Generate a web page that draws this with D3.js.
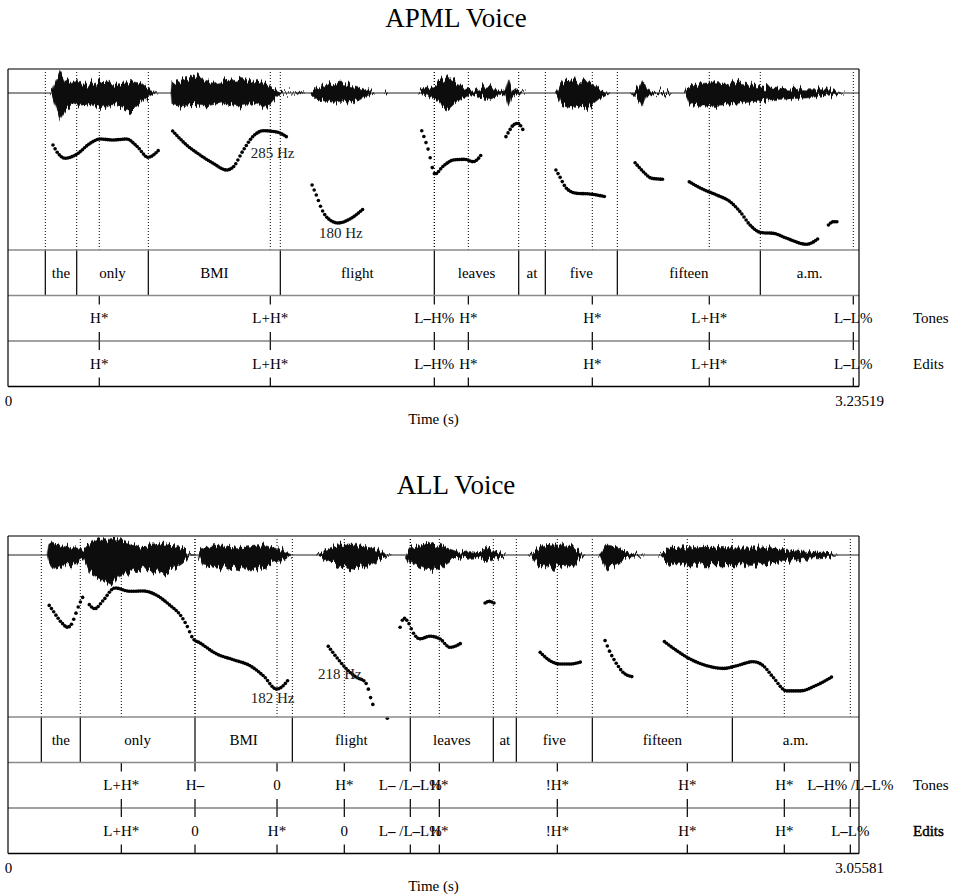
<!DOCTYPE html>
<html>
<head>
<meta charset="utf-8">
<script src="https://cdn.jsdelivr.net/npm/d3@7"></script>
<style>
  body { margin: 0; background: #fff; }
  svg { display: block; font-family: "Liberation Serif", "Times New Roman", serif; }
</style>
</head>
<body>
<svg id="chart" width="956" height="894">
  <defs>
    <!-- vertical-only jitter so the envelope edges look like sample spikes -->
    <filter id="rough" x="-2%" y="-80%" width="104%" height="260%">
      <feTurbulence type="fractalNoise" baseFrequency="0.45 0.02" numOctaves="2" seed="3" result="n"/>
      <feColorMatrix in="n" type="matrix" values="0 0 0 0 0.5  0 1 0 0 0  0 0 1 0 0  0 0 0 0 1" result="m"/>
      <feDisplacementMap in="SourceGraphic" in2="m" scale="14" xChannelSelector="R" yChannelSelector="G"/>
    </filter>
  </defs>
</svg>
<script>
// ---------- APML voice ----------
var apmlDuration = 3.23519;
var apmlWords = ["", "the", "only", "BMI", "flight", "leaves", "at", "five", "fifteen", "a.m."];
var apmlWordEnds = [0.1418, 0.2612, 0.5334, 1.0352, 1.6207, 1.9415, 2.0427, 2.3164, 2.860, 3.23519];
var apmlToneTimes = [0.347, 0.9972, 1.6207, 1.750, 2.2213, 2.666, 3.2135];
var apmlTones = ["H*", "L+H*", "L–H%", "H*", "H*", "L+H*", "L–L%"];
var apmlEdits = ["H*", "L+H*", "L–H%", "H*", "H*", "L+H*", "L–L%"];
// pitch contour pieces, [time s, F0 Hz]
var apmlPitch = [
  [[0.171,268.9],[0.190,259.5],[0.217,253.9],[0.261,258.4],[0.312,270.8],[0.350,275.7],[0.399,274.6],[0.451,275.7],[0.489,267.8],[0.533,255],[0.571,262.5]],
  [[0.626,284.8],[0.679,268.9],[0.730,257.6],[0.780,248.2],[0.831,240.6],[0.857,244.3],[0.895,263.3],[0.933,279.1],[0.971,285.1],[1.022,283.6],[1.062,277.6]],
  [[1.156,223.6],[1.175,210],[1.194,195.3],[1.224,184],[1.255,180.6],[1.300,185.1],[1.350,196.4]],
  [[1.573,285.1],[1.598,263.3],[1.623,236.1],[1.655,245.1],[1.693,251.9],[1.737,252.7],[1.769,250],[1.801,258.7]],
  [[1.893,278.4],[1.906,285.1],[1.921,291.5],[1.938,293.4],[1.957,286.6]],
  [[2.083,240.6],[2.099,232.3],[2.114,223.6],[2.130,218],[2.162,214.2],[2.213,213.4],[2.270,210.4]],
  [[2.384,248.9],[2.415,238.7],[2.447,231.2],[2.491,230.1]],
  [[2.590,227.2],[2.643,218.6],[2.694,212.3],[2.745,204.7],[2.783,193.4],[2.821,178.3],[2.865,169.6],[2.909,168.9],[2.960,163.3],[3.036,156.5],[3.084,163.9]],
  [[3.119,178.3],[3.138,182],[3.157,182]]
];
// waveform envelope pieces, [time s, max, min] (normalised amplitude)
var apmlWave = [
  [[0.160,0,0],[0.167,0.1,-0.1],[0.179,0.5,-0.49],[0.198,0.93,-1.1],[0.217,0.55,-0.75],[0.247,0.42,-0.42],[0.280,0.45,-0.55],[0.312,0.38,-0.49],[0.357,0.55,-0.63],[0.385,0.45,-0.5],[0.414,0.42,-0.49],[0.464,0.49,-0.83],[0.502,0.42,-0.42],[0.528,0.2,-0.2],[0.551,0.05,-0.05],[0.570,0,0]],
  [[0.619,0,0],[0.623,0.45,-0.49],[0.654,0.49,-0.55],[0.690,0.6,-0.5],[0.718,0.74,-0.5],[0.750,0.5,-0.55],[0.779,0.42,-0.49],[0.814,0.5,-0.42],[0.850,0.55,-0.5],[0.882,0.62,-0.55],[0.931,0.45,-0.42],[0.984,0.42,-0.63],[1.008,0.2,-0.3],[1.034,0.05,-0.05],[1.053,0.02,-0.02],[1.080,0.01,-0.01],[1.110,0.04,-0.04],[1.129,0,0]],
  [[1.150,0,0],[1.155,0.08,-0.08],[1.174,0.21,-0.28],[1.212,0.42,-0.35],[1.240,0.35,-0.4],[1.262,0.38,-0.35],[1.300,0.32,-0.38],[1.326,0.28,-0.35],[1.360,0.15,-0.15],[1.376,0.07,-0.07],[1.395,0,0]],
  [[1.430,0,0],[1.437,0.06,-0.06],[1.444,0,0]],
  [[1.560,0,0],[1.573,0.08,-0.08],[1.617,0.28,-0.2],[1.642,0.49,-0.42],[1.668,0.7,-0.76],[1.706,0.42,-0.35],[1.744,0.21,-0.15],[1.769,0.07,-0.07],[1.794,0.2,-0.18],[1.832,0.28,-0.28],[1.870,0.06,-0.06],[1.890,0.1,-0.1],[1.902,0.55,-0.55],[1.915,0.15,-0.15],[1.946,0.05,-0.05],[1.969,0,0]],
  [[2.080,0,0],[2.092,0.2,-0.2],[2.105,0.49,-0.49],[2.149,0.51,-0.6],[2.180,0.48,-0.58],[2.213,0.42,-0.55],[2.251,0.21,-0.21],[2.276,0.05,-0.05],[2.289,0,0]],
  [[2.365,0,0],[2.378,0.05,-0.05],[2.395,0.2,-0.25],[2.410,0.49,-0.55],[2.428,0.15,-0.15],[2.460,0.03,-0.03],[2.504,0.07,-0.07],[2.524,0,0]],
  [[2.570,0,0],[2.580,0.2,-0.15],[2.593,0.35,-0.5],[2.656,0.42,-0.55],[2.719,0.38,-0.5],[2.783,0.42,-0.42],[2.846,0.28,-0.35],[2.909,0.21,-0.28],[2.970,0.18,-0.25],[3.036,0.14,-0.21],[3.138,0.14,-0.07],[3.163,0.02,-0.02],[3.182,0,0]]
];
var apmlPitchLabels = [{text: "285 Hz", t: 0.923, hz: 254.2}, {text: "180 Hz", t: 1.182, hz: 163.6}];

// ---------- ALL voice ----------
var allDuration = 3.05581;
var allWords = ["", "the", "only", "BMI", "flight", "leaves", "at", "five", "fifteen", "a.m."];
var allWordEnds = [0.1196, 0.2596, 0.6715, 1.021, 1.4446, 1.7427, 1.8253, 2.0982, 2.601, 3.05581];
var allToneTimes = [0.4069, 0.6715, 0.966, 1.2076, 1.4446, 1.5488, 1.9725, 2.4393, 2.7876, 3.0246];
var allTones = ["L+H*", "H–", "0", "H*", "L– /L–L%", "H*", "!H*", "H*", "H*", "L–H% /L–L%"];
var allEdits = ["L+H*", "0", "H*", "0", "L– /L–L%", "H*", "!H*", "H*", "H*", "L–L%"];
var allPitch = [
  [[0.148,330.4],[0.163,319.6],[0.177,309.3],[0.193,299.2],[0.214,291.2],[0.229,297.4],[0.241,312.4],[0.252,327.4],[0.270,346.7]],
  [[0.292,331.7],[0.312,324.5],[0.342,339.5],[0.384,361.7],[0.438,355.7],[0.486,356.2],[0.534,348.5],[0.582,330.4],[0.618,313.6],[0.642,294.3],[0.665,270.3],[0.689,263.1],[0.749,243.2],[0.809,232.9],[0.869,222.1],[0.917,204],[0.965,180],[1.007,196.8]],
  [[1.150,256.9],[1.180,237.1],[1.216,216.1],[1.252,201],[1.282,193.2],[1.294,180],[1.302,164.8],[1.312,149.9]],
  [[1.362,127.7]],
  [[1.408,291.2],[1.422,307.5],[1.437,300.3],[1.455,281.1],[1.479,270.3],[1.515,275],[1.551,270.3],[1.587,255.1],[1.629,263.1]],
  [[1.713,334.6],[1.728,337.6],[1.745,334.6]],
  [[1.911,246.1],[1.946,231.1],[1.982,225.1],[2.018,225.1],[2.060,229.3]],
  [[2.144,267.2],[2.162,246.1],[2.186,225.1],[2.209,210],[2.243,202.2]],
  [[2.357,265.4],[2.401,249.2],[2.449,234.2],[2.509,222.1],[2.569,217.2],[2.617,222.1],[2.676,229.3],[2.712,222.1],[2.748,201],[2.796,176.9],[2.844,176.9],[2.904,187.2],[2.961,202.8]]
];
var allWave = [
  [[0.140,0,0],[0.147,0.51,-0.32],[0.169,0.47,-0.67],[0.190,0.4,-0.5],[0.211,0.33,-0.38],[0.247,0.3,-0.38],[0.270,0.2,-0.2],[0.294,0.51,-0.74],[0.330,0.72,-1.0],[0.366,0.65,-1.29],[0.402,0.65,-0.76],[0.438,0.47,-0.76],[0.474,0.3,-0.55],[0.510,0.42,-0.65],[0.570,0.47,-0.76],[0.629,0.3,-0.3],[0.647,0.05,-0.05],[0.661,0.01,-0.01],[0.675,0,0]],
  [[0.682,0,0],[0.689,0.17,-0.18],[0.701,0.3,-0.42],[0.749,0.42,-0.55],[0.809,0.3,-0.49],[0.869,0.35,-0.63],[0.917,0.42,-0.55],[0.953,0.3,-0.3],[0.977,0.25,-0.25],[1.001,0.1,-0.1],[1.020,0,0]],
  [[1.106,0,0],[1.120,0.05,-0.05],[1.156,0.3,-0.3],[1.192,0.42,-0.49],[1.240,0.42,-0.55],[1.288,0.35,-0.49],[1.336,0.17,-0.2],[1.360,0.03,-0.03],[1.379,0,0]],
  [[1.426,0,0],[1.444,0.3,-0.3],[1.480,0.35,-0.49],[1.503,0.58,-0.6],[1.539,0.35,-0.6],[1.551,0.42,-0.55],[1.587,0.25,-0.25],[1.623,0.1,-0.1],[1.659,0.15,-0.15],[1.695,0.1,-0.1],[1.719,0.35,-0.35],[1.743,0.15,-0.15],[1.767,0.1,-0.1],[1.788,0,0]],
  [[1.867,0,0],[1.881,0.05,-0.05],[1.911,0.35,-0.49],[1.934,0.44,-0.55],[1.982,0.42,-0.49],[2.030,0.35,-0.49],[2.054,0.1,-0.1],[2.072,0,0]],
  [[2.119,0,0],[2.126,0.05,-0.05],[2.150,0.42,-0.55],[2.186,0.35,-0.42],[2.222,0.1,-0.1],[2.270,0.02,-0.02],[2.287,0,0]],
  [[2.334,0,0],[2.347,0.05,-0.05],[2.377,0.33,-0.42],[2.413,0.3,-0.35],[2.509,0.33,-0.42],[2.629,0.3,-0.42],[2.748,0.3,-0.35],[2.796,0.2,-0.24],[2.868,0.15,-0.14],[2.952,0.1,-0.1],[2.964,0.02,-0.02],[2.980,0,0]]
];
var allPitchLabels = [{text: "182 Hz", t: 0.8715, hz: 155.3}, {text: "218 Hz", t: 1.113, hz: 198.6}];

var panels = [
  {title: "APML Voice", top: 69, zero: 93, pitchRange: [150, 355], duration: apmlDuration,
   words: apmlWords, wordEnds: apmlWordEnds, toneTimes: apmlToneTimes, tones: apmlTones, edits: apmlEdits,
   pitch: apmlPitch, wave: apmlWave, pitchLabels: apmlPitchLabels, boldEdits: false},
  {title: "ALL Voice", top: 536, zero: 555, pitchRange: [130, 455], duration: allDuration,
   words: allWords, wordEnds: allWordEnds, toneTimes: allToneTimes, tones: allTones, edits: allEdits,
   pitch: allPitch, wave: allWave, pitchLabels: allPitchLabels, boldEdits: true}
];

var svg = d3.select("#chart");
var left = 8, right = 859;
var fontSize = 15;

// writes a label, drawing the phrase-accent dash heavier as Praat does
function toneText(sel, label) {
  label.split(/(–)/).forEach(function(part) {
    if (!part) return;
    var ts = sel.append("tspan").text(part);
    if (part === "–") ts.attr("font-weight", "bold");
  });
}

function drawPanel(p) {
  var g = svg.append("g");
  var tierTop = p.top + 181, tierH = 45.5;
  var rows = [tierTop, tierTop + tierH, tierTop + 2 * tierH, tierTop + 3 * tierH];

  var x = d3.scaleLinear().domain([0, p.duration]).range([left, right]);
  var y = d3.scaleLinear().domain(p.pitchRange).range([tierTop, p.top]);
  var amp = d3.scaleLinear().domain([-1, 1]).range([p.zero + 24, p.zero - 24]);

  g.append("text").attr("x", 456).attr("y", p.top - 42).attr("text-anchor", "middle")
    .attr("font-size", 27).text(p.title);

  // dotted guides for all boundaries and tone points
  var guides = p.wordEnds.slice(0, -1).concat(p.toneTimes);
  g.append("g").selectAll("line").data(guides).enter().append("line")
    .attr("x1", function(d) { return x(d); }).attr("x2", function(d) { return x(d); })
    .attr("y1", p.top).attr("y2", tierTop)
    .attr("stroke", "#000").attr("stroke-width", 1).attr("stroke-dasharray", "1,2");

  // waveform
  g.append("line").attr("x1", left).attr("x2", right).attr("y1", p.zero).attr("y2", p.zero)
    .attr("stroke", "#222").attr("stroke-width", 1);
  var area = d3.area()
    .x(function(d) { return x(d[0]); })
    .y0(function(d) { return amp(d[2]); })
    .y1(function(d) { return amp(d[1]); });
  g.append("g").attr("filter", "url(#rough)")
    .selectAll("path").data(p.wave).enter().append("path")
    .attr("d", area).attr("fill", "#111").attr("stroke", "#333").attr("stroke-width", 0.5);

  // pitch: the contour line sampled at a fixed analysis step, drawn as speckles
  var line = d3.line().x(function(d) { return x(d[0]); }).y(function(d) { return y(d[1]); })
    .curve(d3.curveMonotoneX);
  var pg = g.append("g");
  var step = 0.008;
  p.pitch.forEach(function(seg) {
    var pts = [];
    if (seg.length === 1) {
      pts.push({x: x(seg[0][0]), y: y(seg[0][1])});
    } else {
      var node = pg.append("path").attr("d", line(seg)).attr("fill", "none").attr("stroke", "none").node();
      var len = node.getTotalLength();
      for (var t = seg[0][0]; t <= seg[seg.length - 1][0] + 1e-9; t += step) {
        var px = x(t), lo = 0, hi = len;
        for (var i = 0; i < 25; i++) {
          var mid = (lo + hi) / 2;
          if (node.getPointAtLength(mid).x < px) lo = mid; else hi = mid;
        }
        pts.push(node.getPointAtLength(hi));
      }
    }
    pg.selectAll(null).data(pts).enter().append("circle")
      .attr("cx", function(d) { return d.x; }).attr("cy", function(d) { return d.y; })
      .attr("r", 1.8).attr("fill", "#000");
  });

  g.selectAll(null).data(p.pitchLabels).enter().append("text")
    .attr("x", function(d) { return x(d.t); }).attr("y", function(d) { return y(d.hz); })
    .attr("font-size", fontSize).attr("fill", "#222").text(function(d) { return d.text; });

  // word tier
  var starts = [0].concat(p.wordEnds.slice(0, -1));
  g.append("g").selectAll("line").data(p.wordEnds.slice(0, -1)).enter().append("line")
    .attr("x1", function(d) { return x(d); }).attr("x2", function(d) { return x(d); })
    .attr("y1", rows[0]).attr("y2", rows[1]).attr("stroke", "#000").attr("stroke-width", 1.2);
  g.append("g").selectAll("text").data(p.words).enter().append("text")
    .attr("x", function(d, i) { return (x(starts[i]) + x(p.wordEnds[i])) / 2; })
    .attr("y", rows[0] + tierH / 2 + 5).attr("text-anchor", "middle").attr("font-size", fontSize)
    .text(function(d) { return d; });

  // point tiers
  [p.tones, p.edits].forEach(function(labels, k) {
    var t0 = rows[k + 1], t1 = rows[k + 2];
    var tg = g.append("g");
    p.toneTimes.forEach(function(tt, i) {
      var xx = x(tt);
      tg.append("line").attr("x1", xx).attr("x2", xx).attr("y1", t0).attr("y2", t0 + 9)
        .attr("stroke", "#000").attr("stroke-width", 1.2);
      tg.append("line").attr("x1", xx).attr("x2", xx).attr("y1", t1 - 9).attr("y2", t1)
        .attr("stroke", "#000").attr("stroke-width", 1.2);
      var txt = tg.append("text").attr("x", xx).attr("y", t0 + tierH / 2 + 5)
        .attr("text-anchor", "middle").attr("font-size", fontSize);
      toneText(txt, labels[i]);
    });
    var name = g.append("text").attr("x", 913).attr("y", t0 + tierH / 2 + 5)
      .attr("font-size", fontSize).text(k === 0 ? "Tones" : "Edits");
    if (k === 1 && p.boldEdits) name.attr("stroke", "#000").attr("stroke-width", 0.45);
  });

  // frame and tier separators
  g.append("line").attr("x1", left).attr("x2", right).attr("y1", p.top).attr("y2", p.top)
    .attr("stroke", "#7a7a7a").attr("stroke-width", 2);
  g.append("line").attr("x1", left).attr("x2", right).attr("y1", rows[0]).attr("y2", rows[0])
    .attr("stroke", "#8a8a8a").attr("stroke-width", 1.6);
  g.append("line").attr("x1", left).attr("x2", right).attr("y1", rows[1]).attr("y2", rows[1])
    .attr("stroke", "#8a8a8a").attr("stroke-width", 1.6);
  g.append("line").attr("x1", left).attr("x2", right).attr("y1", rows[2]).attr("y2", rows[2])
    .attr("stroke", "#444").attr("stroke-width", 1.1);
  g.append("line").attr("x1", left).attr("x2", right).attr("y1", rows[3]).attr("y2", rows[3])
    .attr("stroke", "#000").attr("stroke-width", 1.3);
  g.append("line").attr("x1", left).attr("x2", left).attr("y1", p.top).attr("y2", rows[3])
    .attr("stroke", "#000").attr("stroke-width", 1.2);
  g.append("line").attr("x1", right).attr("x2", right).attr("y1", p.top).attr("y2", rows[3])
    .attr("stroke", "#000").attr("stroke-width", 1.2);

  // time axis: just the two end values
  var axis = d3.axisBottom(x).tickValues([0, p.duration]).tickSize(0).tickPadding(9)
    .tickFormat(function(d) { return d === 0 ? "0" : d.toFixed(5); });
  var ag = g.append("g").attr("transform", "translate(0," + rows[3] + ")").call(axis);
  ag.select(".domain").remove();
  ag.selectAll("text").attr("font-size", fontSize).attr("font-family", "Liberation Serif").attr("fill", "#000");
  g.append("text").attr("x", (left + right) / 2).attr("y", rows[3] + 37).attr("text-anchor", "middle")
    .attr("font-size", fontSize).text("Time (s)");
}

panels.forEach(drawPanel);
</script>
</body>
</html>
